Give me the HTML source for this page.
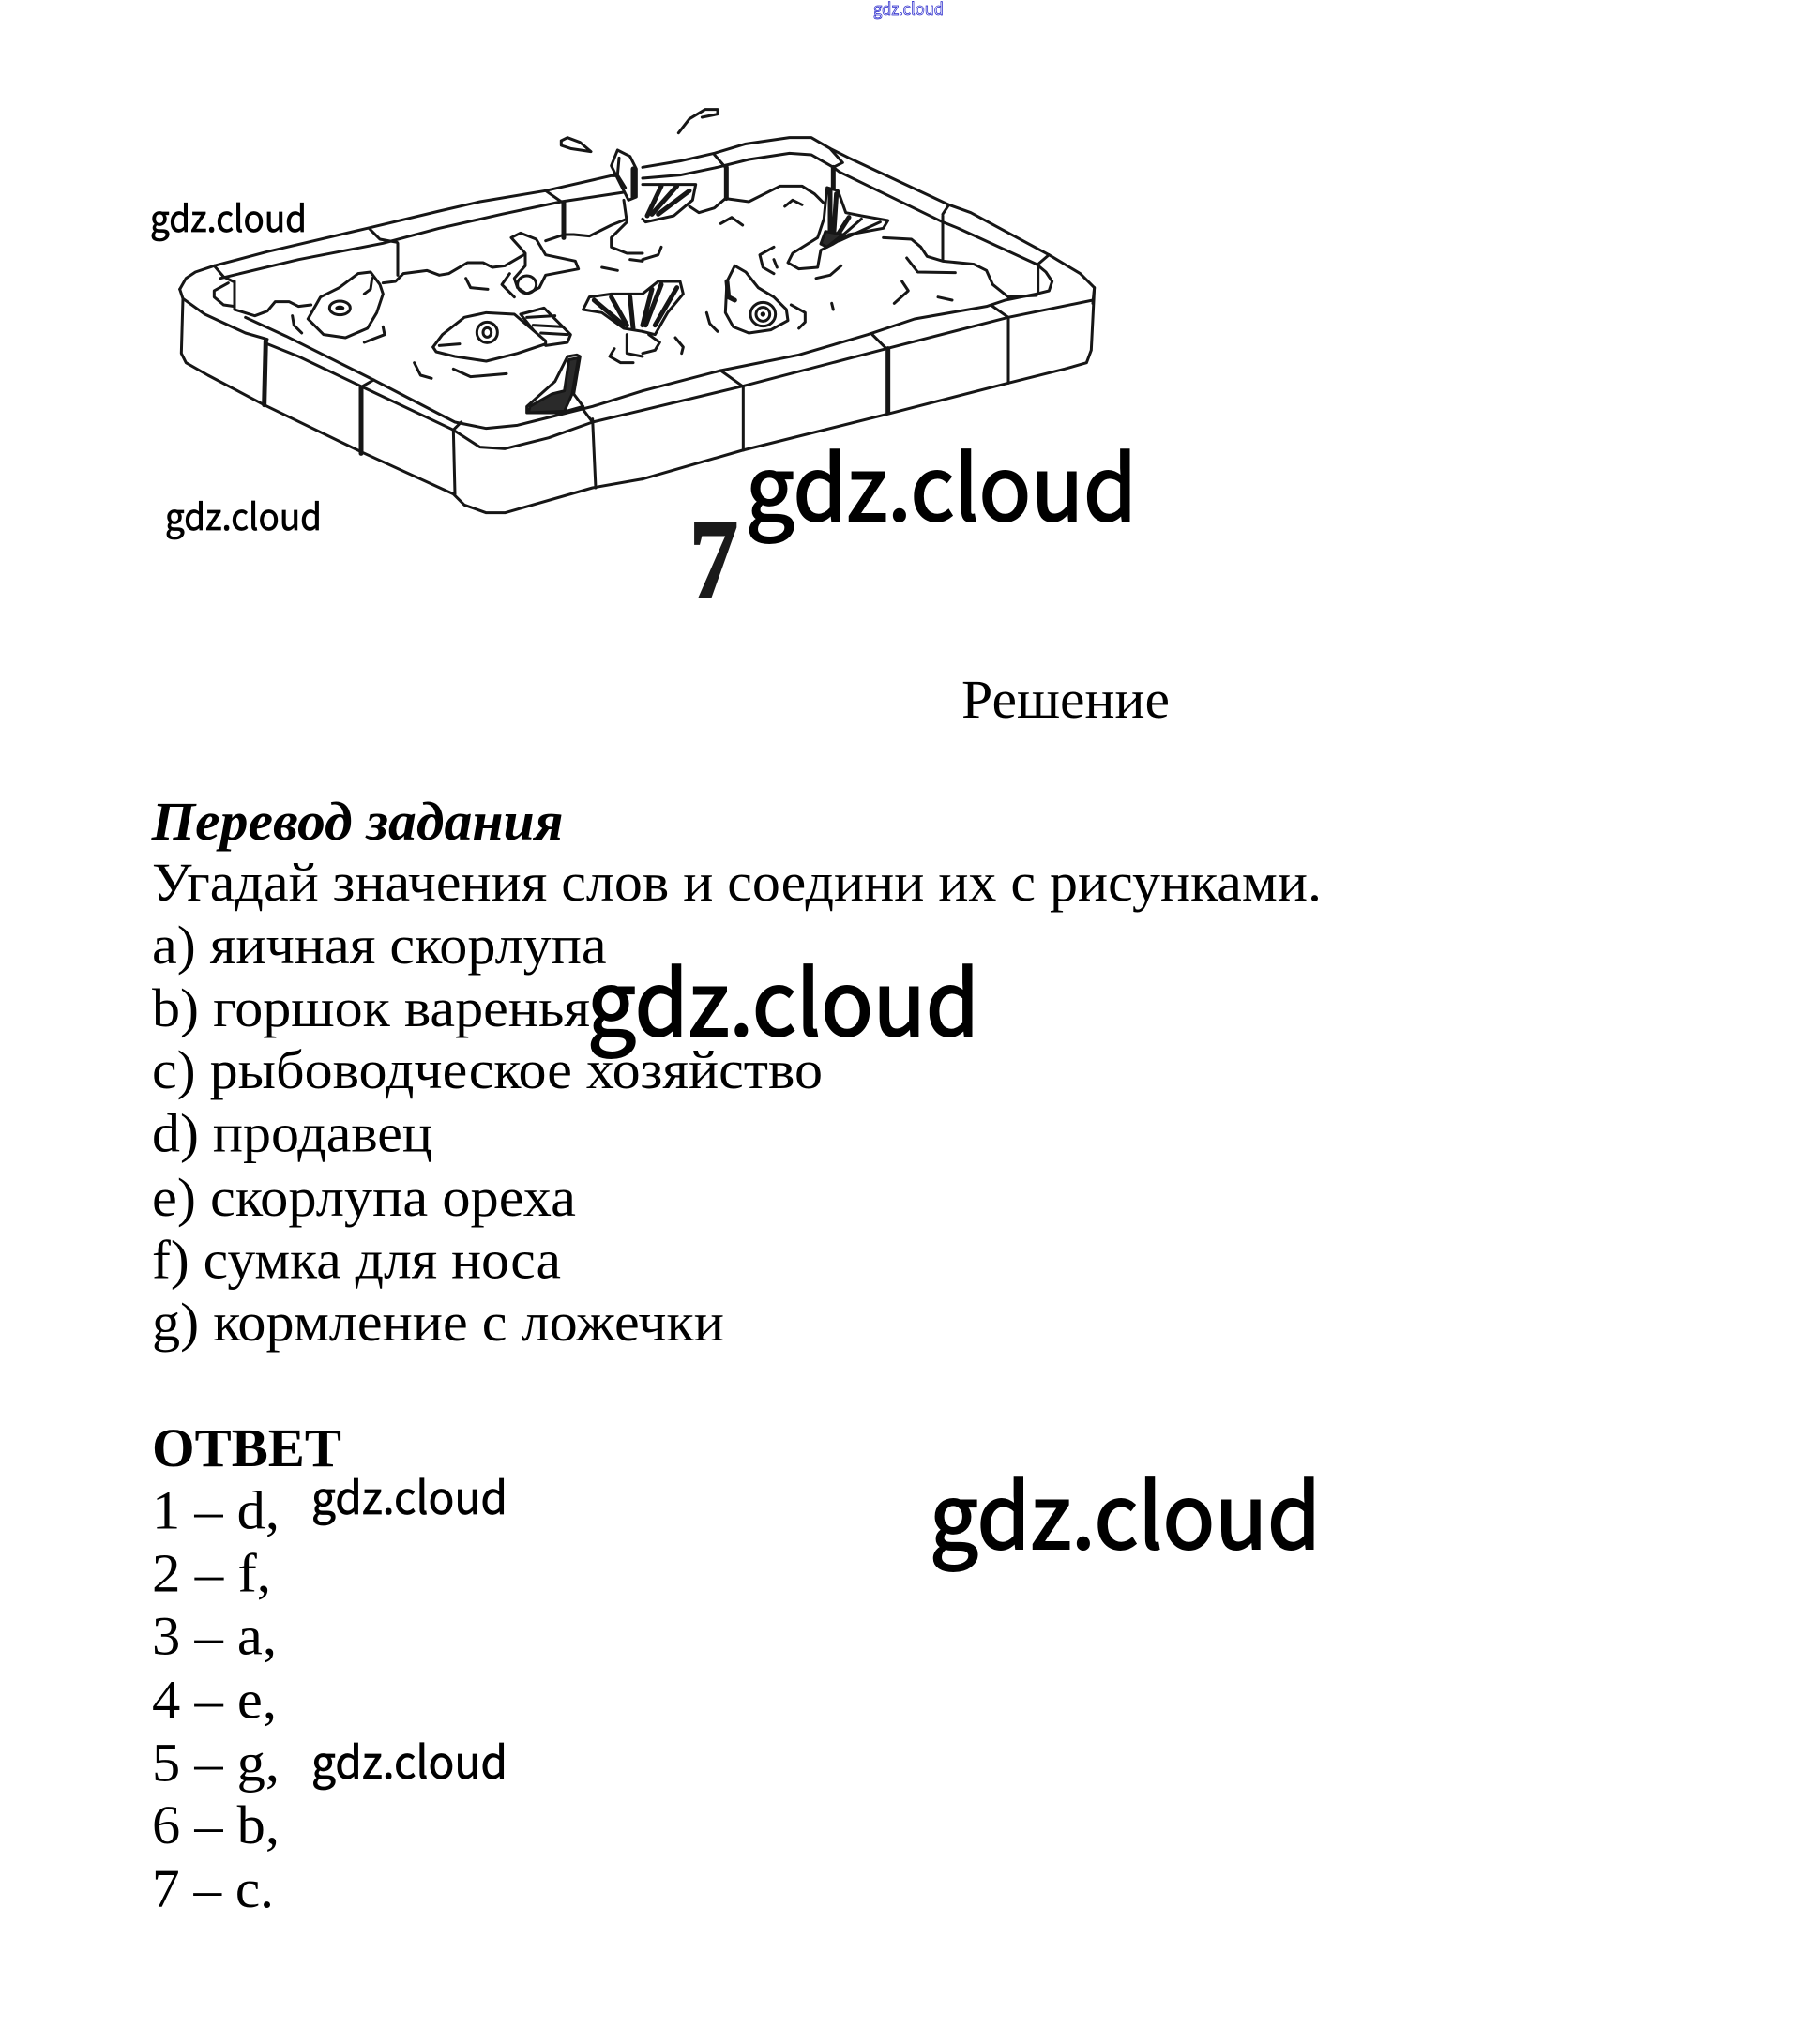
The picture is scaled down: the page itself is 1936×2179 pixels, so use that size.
<!DOCTYPE html>
<html><head><meta charset="utf-8"><title>gdz.cloud</title>
<style>
html,body{margin:0;padding:0;background:#fff;width:1936px;height:2179px;overflow:hidden}
svg{display:block}
.t{font-family:"Liberation Serif","Noto Serif CJK SC",serif;font-size:58px;fill:#000}
.w{font-family:"Noto Sans CJK JP","Liberation Sans",sans-serif;fill:#000;stroke:#000}
.b{font-size:95px;stroke-width:2}
.s{stroke-width:.7}
polyline{fill:none;stroke:#161616;stroke-width:3;stroke-linejoin:round;stroke-linecap:round;vector-effect:non-scaling-stroke}
ellipse{fill:none;stroke:#161616;stroke-width:3;vector-effect:non-scaling-stroke}
polyline.f{fill:#fff}
polyline.h{stroke-width:5}
polyline.d{fill:#2a2a2a}
ellipse.k{fill:#111;stroke:none}
</style></head><body>
<svg width="1936" height="2179" viewBox="0 0 1936 2179" xmlns="http://www.w3.org/2000/svg">
<rect width="1936" height="2179" fill="#fff"/>
<!-- left half of the tank -->
<g transform="translate(185,100) scale(.33333)">
<polyline points="20,625 40,590 70,570 130,550 300,505 620,430 850,375 980,345 1190,310 1400,262 1420,262"/>
<polyline points="150,590 400,530 670,478 850,430 1050,385 1240,345 1440,315"/>
<polyline points="130,550 160,585 190,600"/><polyline points="625,430 660,465 715,475"/><polyline points="1190,310 1240,345"/>
<polyline points="195,600 195,690"/><polyline points="717,478 717,580"/><polyline class="h" points="1248,350 1248,460"/>
<polyline points="175,605 130,630 130,650 160,675 195,680"/>
<polyline points="195,690 260,710 300,695 325,665 370,665 400,680 440,675"/>
<polyline points="670,605 710,600 735,575 810,565 850,580 880,575 940,540 990,540 1020,555 1060,550 1120,515"/>
<polyline points="1190,470 1250,450 1280,450 1330,455 1400,420 1450,400"/>
<polyline points="30,655 100,705 230,765 300,785"/>
<polyline points="300,800 400,840 620,945 895,1075"/>
<polyline points="230,715 360,775 640,915 900,1050 1000,1070 1100,1060 1200,1035 1340,1000 1500,950"/>
<polyline points="20,625 30,655 25,830 40,860 110,900 290,995 600,1145 895,1280 930,1315 1000,1340 1060,1340 1340,1260 1500,1232"/>
<polyline points="895,1075 980,1130 1060,1135 1200,1100 1340,1050 1500,1012"/>
<polyline class="h" points="295,790 290,995"/><polyline class="h" points="600,940 600,1150"/><polyline points="895,1075 900,1280"/><polyline points="1340,1040 1350,1260"/>
<polyline points="605,935 640,915"/><polyline points="895,1075 920,1050"/><polyline points="1310,1010 1340,1050"/>
<!-- fish 1 -->
<polyline points="430,720 470,650 530,620 590,575 630,570 660,610 670,640 650,700 620,750 550,780 480,770 430,720"/>
<ellipse cx="532" cy="685" rx="33" ry="22"/><ellipse class="k" cx="532" cy="685" rx="15" ry="8"/>
<polyline points="635,590 630,625 610,640"/><polyline points="380,710 385,740 410,765"/><polyline points="670,745 675,770 610,795"/>
<!-- fish 2 -->
<polyline class="f" points="1110,705 1185,685 1270,770 1260,795 1190,805 1110,705"/>
<polyline points="1130,715 1220,710"/><polyline points="1150,740 1245,745"/><polyline points="1175,765 1260,770"/>
<polyline class="f" points="830,810 860,770 930,715 1000,700 1090,705 1190,790 1190,800 1100,830 1000,855 900,840 840,825 830,810"/>
<polyline points="850,805 915,800"/>
<ellipse cx="1003" cy="763" rx="33" ry="33"/><ellipse cx="1003" cy="763" rx="13" ry="15"/>
<polyline points="770,860 790,900 825,910"/><polyline points="895,880 950,905 1065,895"/>
<!-- lower tail -->
<polyline class="f" points="1290,835 1260,840 1220,920 1130,1000 1130,1020 1240,1020 1310,1000 1280,960 1300,840 1290,835"/>
<polyline class="d" points="1265,850 1295,845 1275,960 1250,1015 1135,1020 1140,1000 1210,960 1250,950 1265,850"/>
<!-- small fin -->
<polyline class="f" points="1080,460 1110,445 1160,465 1190,515 1285,535 1295,560 1190,580 1170,620 1130,640 1100,620 1090,590 1125,550 1125,510 1080,460"/>
<ellipse cx="1130" cy="610" rx="30" ry="28"/>
<polyline points="1075,575 1050,610 1090,650"/><polyline points="935,590 950,620 1005,625"/><polyline points="1370,555 1420,565"/><polyline points="1460,530 1500,535"/>
<polyline points="1240,150 1260,140 1300,155 1335,185 1270,175 1240,165 1240,150"/>
<!-- top tail -->
<polyline class="f" points="1420,180 1400,230 1430,290 1455,340 1480,330 1480,240 1460,200 1420,180"/>
<polyline points="1425,205 1420,260 1445,300"/>
<polyline class="h" points="1470,240 1470,330"/>
<polyline points="1440,340 1450,410 1400,460 1400,490 1450,510 1500,510"/>
<!-- centre tail left part -->
<polyline points="1310,690 1330,650 1400,640 1500,640"/><polyline points="1310,690 1370,700 1440,750 1500,760"/>
<polyline class="h" points="1345,660 1440,740"/><polyline class="h" points="1400,650 1450,740"/><polyline class="h" points="1460,650 1470,750"/>
<polyline points="1450,770 1450,830 1500,840"/><polyline points="1410,815 1395,840 1430,860 1470,860"/>
</g>
<!-- right half of the tank -->
<g transform="translate(685,100) scale(.33333)">
<polyline points="0,235 120,215 230,190 330,160 470,140 540,140 600,175 660,205 980,355 1050,380 1300,515 1400,575 1445,620 1440,670"/>
<polyline points="0,270 120,260 240,235 340,210 470,190 540,195 610,235 630,250 960,410 1010,430 1260,545 1290,570 1310,600 1300,630 1260,640"/>
<polyline points="230,195 265,235"/><polyline points="600,175 640,220 610,235"/><polyline points="980,355 960,385"/><polyline points="1300,515 1265,545"/>
<polyline class="h" points="268,235 268,335"/><polyline class="h" points="610,235 610,330"/><polyline points="960,390 960,530"/><polyline points="1265,545 1265,640"/>
<polyline points="150,360 180,380 230,365 265,335 340,345 380,325 440,295 510,295 550,320 580,350"/>
<polyline points="770,460 860,465 890,490 910,520 960,535 1060,545 1100,565 1120,610 1170,650 1260,645"/>
<polyline points="0,950 250,885 500,835 720,770 870,720 1100,680 1160,660 1260,640"/>
<polyline points="0,1012 320,935 780,815 1170,715 1440,660"/>
<polyline points="0,1232 320,1140 780,1025 1170,925 1350,880 1420,860 1435,820 1445,620"/>
<polyline points="322,935 322,1140"/><polyline class="h" points="785,815 785,1020"/><polyline points="1170,715 1170,925"/>
<polyline points="250,885 320,935"/><polyline points="735,770 780,815"/><polyline points="1120,680 1170,715"/>
<!-- top tail fan -->
<polyline class="f" points="0,290 170,290 160,340 100,390 10,410 0,400"/>
<polyline class="h" points="60,295 15,390"/><polyline class="h" points="110,295 30,385"/><polyline class="h" points="150,310 50,385"/>
<polyline points="60,490 50,515 0,530"/>
<!-- centre tail right part -->
<polyline class="f" points="0,640 50,600 120,600 130,640 80,700 40,770 0,760"/>
<polyline class="h" points="60,610 10,740"/><polyline class="h" points="110,620 40,740"/><polyline class="h" points="30,625 0,740"/>
<polyline points="0,830 40,820 55,795 20,770"/><polyline points="105,780 130,810 125,830"/>
<!-- right tail -->
<polyline class="f" points="590,300 580,400 560,460 480,510 465,540 500,560 560,555 570,500 610,480 660,450 770,430 785,405 700,390 650,380 625,310 590,300"/>
<polyline class="h" points="600,310 600,470"/><polyline class="h" points="620,320 610,470"/><polyline class="h" points="660,395 615,465"/><polyline points="700,400 620,470"/><polyline points="760,410 630,470"/>
<polyline class="d" points="585,440 640,450 590,490 570,480 585,440"/>
<polyline points="420,490 375,515 385,555 420,575"/><polyline points="420,530 430,555"/><polyline points="635,550 600,580 555,590"/>
<!-- fish 3 -->
<polyline points="295,550 270,600 265,700 290,745 340,765 410,755 465,725 460,690 420,650 370,620 330,570 295,550"/>
<polyline class="h" points="270,600 275,650 295,660"/>
<ellipse cx="385" cy="705" rx="40" ry="38"/><ellipse cx="385" cy="705" rx="22" ry="22"/><ellipse class="k" cx="385" cy="705" rx="8" ry="8"/>
<polyline points="205,700 215,735 240,760"/><polyline points="475,675 520,700 520,730 500,750"/>
<polyline points="250,415 285,395 320,420"/><polyline points="455,360 480,340 510,355"/><polyline points="605,670 610,690"/><polyline points="830,600 850,630 805,670"/><polyline points="945,650 990,660"/><polyline points="845,525 880,570 1000,572"/>
<polyline points="115,125 150,80 200,50 240,50 240,65 190,75"/>
</g>
<text x="735" y="636" font-family="'Liberation Serif',serif" font-weight="bold" font-size="120" fill="#1a1a1a" stroke="#1a1a1a" stroke-width="2" textLength="52" lengthAdjust="spacingAndGlyphs">7</text>

<text class="t" x="1025" y="765" textLength="222" lengthAdjust="spacingAndGlyphs">Решение</text>
<text class="t" x="161.6" y="895" font-weight="bold" font-style="italic" textLength="439" lengthAdjust="spacingAndGlyphs">Перевод задания</text>
<text class="t" x="162" y="960" textLength="1247" lengthAdjust="spacingAndGlyphs">Угадай значения слов и соедини их с рисунками.</text>
<text class="t" x="162" y="1027" textLength="484.6" lengthAdjust="spacingAndGlyphs">a) яичная скорлупа</text>
<text class="t" x="162" y="1094" textLength="467" lengthAdjust="spacingAndGlyphs">b) горшок варенья</text>
<text class="t" x="162" y="1160" textLength="715" lengthAdjust="spacingAndGlyphs">c) рыбоводческое хозяйство</text>
<text class="t" x="162" y="1227.5" textLength="299" lengthAdjust="spacingAndGlyphs">d) продавец</text>
<text class="t" x="162" y="1296" textLength="452" lengthAdjust="spacingAndGlyphs">e) скорлупа ореха</text>
<text class="t" x="162" y="1362.5" textLength="436" lengthAdjust="spacingAndGlyphs">f) сумка для носа</text>
<text class="t" x="162" y="1429" textLength="610" lengthAdjust="spacingAndGlyphs">g) кормление с ложечки</text>
<text class="t" x="162" y="1563" font-weight="bold" textLength="202" lengthAdjust="spacingAndGlyphs">ОТВЕТ</text>
<text class="t" x="162" y="1629.5" textLength="136" lengthAdjust="spacingAndGlyphs">1 – d,</text>
<text class="t" x="162" y="1696.5" textLength="127" lengthAdjust="spacingAndGlyphs">2 – f,</text>
<text class="t" x="162" y="1763.5" textLength="133" lengthAdjust="spacingAndGlyphs">3 – a,</text>
<text class="t" x="162" y="1831.5" textLength="133" lengthAdjust="spacingAndGlyphs">4 – e,</text>
<text class="t" x="162" y="1898.5" textLength="136" lengthAdjust="spacingAndGlyphs">5 – g,</text>
<text class="t" x="162" y="1965" textLength="136" lengthAdjust="spacingAndGlyphs">6 – b,</text>
<text class="t" x="162" y="2033" textLength="130" lengthAdjust="spacingAndGlyphs">7 – c.</text>

<text class="w b" x="795" y="555" textLength="417" lengthAdjust="spacingAndGlyphs">gdz.cloud</text>
<text class="w b" x="626" y="1104" textLength="418" lengthAdjust="spacingAndGlyphs">gdz.cloud</text>
<text class="w b" x="991" y="1651" textLength="417" lengthAdjust="spacingAndGlyphs">gdz.cloud</text>
<text class="w s" x="160" y="247" font-size="39" textLength="167" lengthAdjust="spacingAndGlyphs">gdz.cloud</text>
<text class="w s" x="176" y="565" font-size="39" textLength="167" lengthAdjust="spacingAndGlyphs">gdz.cloud</text>
<text class="w s" x="332" y="1614" font-size="48" textLength="209" lengthAdjust="spacingAndGlyphs">gdz.cloud</text>
<text class="w s" x="332" y="1896" font-size="48" textLength="209" lengthAdjust="spacingAndGlyphs">gdz.cloud</text>
<text x="931" y="16" font-family="'Noto Sans CJK JP','Liberation Sans',sans-serif" font-size="18" fill="#fff" stroke="#2a2acc" stroke-width="0.8" textLength="75" lengthAdjust="spacingAndGlyphs">gdz.cloud</text>
</svg>
</body></html>
